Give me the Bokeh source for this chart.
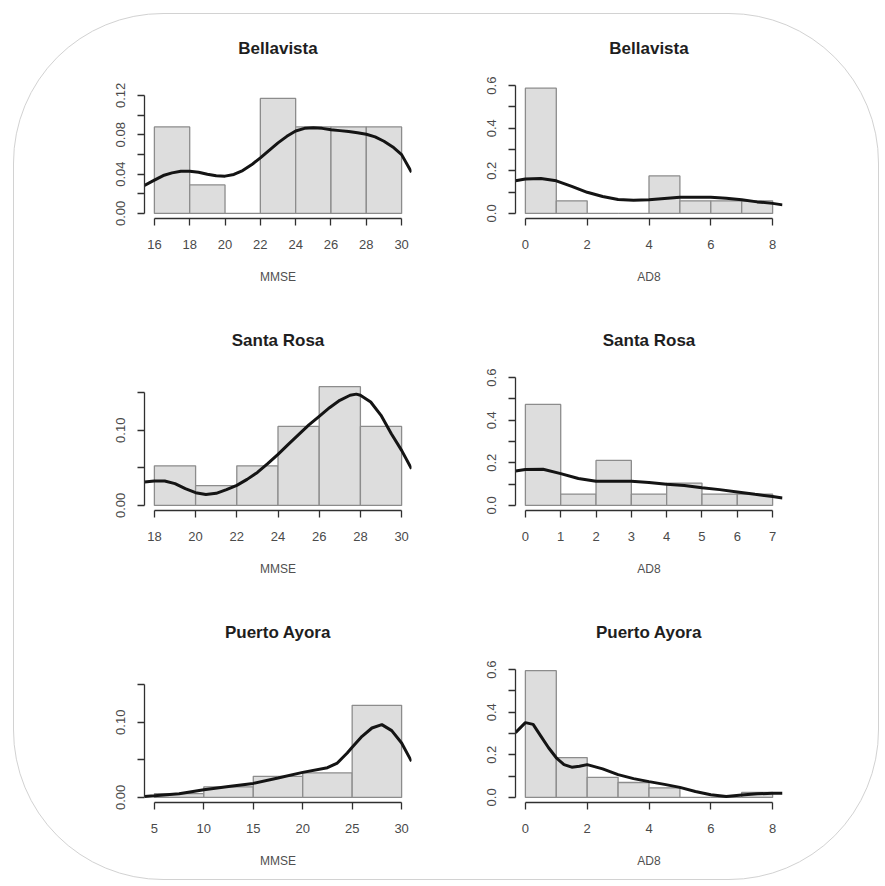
from bokeh.plotting import figure
from bokeh.layouts import gridplot
from bokeh.models import FixedTicker
from bokeh.embed import file_html
from bokeh.resources import INLINE

# ---------------- data ----------------
titles = ["Bellavista", "Bellavista", "Santa Rosa", "Santa Rosa", "Puerto Ayora", "Puerto Ayora"]
xlabels = ["MMSE", "AD8", "MMSE", "AD8", "MMSE", "AD8"]

# histogram breaks and densities
bv_mmse_breaks = [16, 18, 20, 22, 24, 26, 28, 30]
bv_mmse_dens = [0.088, 0.029, 0.0, 0.117, 0.088, 0.088, 0.088]
bv_ad8_breaks = [0, 1, 2, 3, 4, 5, 6, 7, 8]
bv_ad8_dens = [0.588, 0.059, 0.0, 0.0, 0.176, 0.059, 0.059, 0.059]
sr_mmse_breaks = [18, 20, 22, 24, 26, 28, 30]
sr_mmse_dens = [0.0526, 0.0263, 0.0526, 0.105, 0.158, 0.105]
sr_ad8_breaks = [0, 1, 2, 3, 4, 5, 6, 7]
sr_ad8_dens = [0.474, 0.053, 0.211, 0.053, 0.105, 0.053, 0.053]
pa_mmse_breaks = [5, 10, 15, 20, 25, 30]
pa_mmse_dens = [0.005, 0.014, 0.028, 0.0326, 0.1225]
pa_ad8_breaks = [0, 1, 2, 3, 4, 5, 6, 7, 8]
pa_ad8_dens = [0.595, 0.187, 0.094, 0.070, 0.045, 0.0, 0.0, 0.024]

# kernel density curves
bv_mmse_kx = [15.44, 16, 16.5, 17, 17.5, 18, 18.5, 19, 19.5, 20, 20.5, 21, 21.5, 22, 22.5, 23, 23.5,
              24, 24.5, 25, 25.5, 26, 26.5, 27, 27.5, 28, 28.5, 29, 29.5, 30, 30.56]
bv_mmse_ky = [0.0284, 0.0338, 0.0385, 0.0412, 0.0429, 0.0429, 0.0419, 0.0399, 0.0382, 0.0379, 0.0396,
              0.0436, 0.0494, 0.0565, 0.0642, 0.0717, 0.0784, 0.0838, 0.0865, 0.0872, 0.0865, 0.0852,
              0.0842, 0.0832, 0.0821, 0.0805, 0.0778, 0.0734, 0.0676, 0.0598, 0.0419]
bv_ad8_kx = [-0.32, 0, 0.5, 1, 1.5, 2, 2.5, 3, 3.5, 4, 4.5, 5, 5.5, 6, 6.5, 7, 7.5, 8, 8.32]
bv_ad8_ky = [0.153, 0.161, 0.164, 0.153, 0.127, 0.099, 0.079, 0.065, 0.062, 0.064, 0.070, 0.076,
             0.076, 0.076, 0.071, 0.064, 0.054, 0.047, 0.040]
sr_mmse_kx = [17.52, 18, 18.5, 19, 19.5, 20, 20.5, 21, 21.5, 22, 22.5, 23, 23.5, 24, 24.5, 25, 25.5,
              26, 26.5, 27, 27.5, 27.8, 28, 28.5, 29, 29.5, 30, 30.48]
sr_mmse_ky = [0.0311, 0.0324, 0.0324, 0.0289, 0.0222, 0.0169, 0.0146, 0.0160, 0.0209, 0.0266, 0.0346,
              0.0439, 0.0555, 0.0679, 0.0812, 0.0941, 0.107, 0.1185, 0.130, 0.1398, 0.1465, 0.148,
              0.1465, 0.1376, 0.1198, 0.0954, 0.0732, 0.0488]
sr_ad8_kx = [-0.28, 0, 0.5, 1, 1.5, 2, 2.5, 3, 3.5, 4, 4.5, 5, 5.5, 6, 6.5, 7, 7.28]
sr_ad8_ky = [0.162, 0.168, 0.170, 0.149, 0.126, 0.113, 0.113, 0.113, 0.108, 0.099, 0.093, 0.083,
             0.074, 0.063, 0.052, 0.042, 0.035]
pa_mmse_kx = [4, 5, 7.5, 10, 12.5, 15, 17.5, 20, 22.5, 23.5, 24, 24.5, 25, 26, 27, 28, 29, 30, 31]
pa_mmse_ky = [0.0013, 0.0022, 0.0049, 0.0102, 0.0146, 0.0186, 0.0257, 0.0333, 0.0395, 0.0457, 0.0524,
              0.059, 0.0666, 0.0812, 0.0923, 0.0968, 0.0888, 0.0723, 0.0479]
pa_ad8_kx = [-0.32, 0, 0.25, 0.5, 0.75, 1, 1.25, 1.5, 1.75, 2, 2.5, 3, 3.5, 4, 4.5, 5, 5.5, 6, 6.5,
             7, 7.5, 8, 8.32]
pa_ad8_ky = [0.304, 0.351, 0.343, 0.288, 0.233, 0.186, 0.154, 0.142, 0.146, 0.154, 0.134, 0.107, 0.088,
             0.074, 0.061, 0.047, 0.028, 0.0126, 0.0047, 0.011, 0.017, 0.019, 0.019]

# axis ranges, ticks and tick labels
bv_mmse_xlim = (15.44, 30.56)
bv_mmse_ylim = (-0.0052, 0.1352)
bv_mmse_xticks = [16, 18, 20, 22, 24, 26, 28, 30]
bv_mmse_yticks = [0, 0.02, 0.04, 0.06, 0.08, 0.1, 0.12]
bv_mmse_ylabels = ["0.00", "", "0.04", "", "0.08", "", "0.12"]

ad8_ylim = (-0.024, 0.624)
ad8_yticks = [0, 0.1, 0.2, 0.3, 0.4, 0.5, 0.6]
ad8_ylabels = ["0.0", "", "0.2", "", "0.4", "", "0.6"]
ad8_xlim8 = (-0.32, 8.32)
ad8_xticks8 = [0, 2, 4, 6, 8]
ad8_xlim7 = (-0.28, 7.28)
ad8_xticks7 = [0, 1, 2, 3, 4, 5, 6, 7]

sr_mmse_xlim = (17.52, 30.48)
sr_mmse_xticks = [18, 20, 22, 24, 26, 28, 30]
mmse_ylim = (-0.0068, 0.1768)
mmse_yticks = [0, 0.05, 0.1, 0.15]
mmse_ylabels = ["0.00", "", "0.10", ""]
pa_mmse_xlim = (4, 31)
pa_mmse_xticks = [5, 10, 15, 20, 25, 30]

FONT = "Liberation Sans"


def panel(title, xlab, breaks, dens, kx, ky, xlim, ylim, xticks, yticks, ylabels,
          left, right, top, bottom):
    p = figure(frame_width=267, frame_height=138, x_range=xlim, y_range=ylim,
               output_backend="svg", toolbar_location=None,
               min_border_left=left, min_border_right=right,
               min_border_top=top, min_border_bottom=bottom)
    p.background_fill_alpha = 0
    p.border_fill_alpha = 0
    p.outline_line_color = None
    p.xgrid.visible = False
    p.ygrid.visible = False

    p.title.text = title
    p.title.align = "center"
    p.title.text_font = FONT
    p.title.text_font_size = "17px"
    p.title.text_font_style = "bold"
    p.title.text_color = "#1e1e1e"
    p.title.standoff = 45

    p.quad(left=breaks[:-1], right=breaks[1:], top=dens, bottom=0,
           fill_color="#dddddd", line_color="#8c8c8c", line_width=1.3)
    p.line(kx, ky, line_color="#141414", line_width=3)

    for ax, ticks, labels in ((p.xaxis[0], xticks, [str(t) for t in xticks]),
                              (p.yaxis[0], yticks, ylabels)):
        ax.ticker = FixedTicker(ticks=ticks)
        ax.major_label_overrides = {t: l for t, l in zip(ticks, labels)}
        ax.bounds = (ticks[0], ticks[-1])
        ax.minor_tick_line_color = None
        ax.major_tick_in = 0
        ax.major_tick_out = 7
        ax.axis_line_color = "#303030"
        ax.axis_line_width = 1.3
        ax.major_tick_line_color = "#303030"
        ax.major_tick_line_width = 1.3
        ax.major_label_text_font = FONT
        ax.major_label_text_font_size = "13px"
        ax.major_label_text_color = "#4a4a4a"
        ax.major_label_standoff = 14
    p.yaxis[0].major_label_orientation = "vertical"
    p.yaxis[0].major_label_standoff = 12
    p.xaxis[0].axis_label = xlab
    p.xaxis[0].axis_label_text_font = FONT
    p.xaxis[0].axis_label_text_font_size = "12px"
    p.xaxis[0].axis_label_text_font_style = "normal"
    p.xaxis[0].axis_label_text_color = "#505050"
    p.xaxis[0].axis_label_standoff = 18
    return p


p1 = panel(titles[0], xlabels[0], bv_mmse_breaks, bv_mmse_dens, bv_mmse_kx, bv_mmse_ky,
           bv_mmse_xlim, bv_mmse_ylim, bv_mmse_xticks, bv_mmse_yticks, bv_mmse_ylabels,
           130, 52, 66, 88)
p2 = panel(titles[1], xlabels[1], bv_ad8_breaks, bv_ad8_dens, bv_ad8_kx, bv_ad8_ky,
           ad8_xlim8, ad8_ylim, ad8_xticks8, ad8_yticks, ad8_ylabels,
           52, 96, 66, 88)
p3 = panel(titles[2], xlabels[2], sr_mmse_breaks, sr_mmse_dens, sr_mmse_kx, sr_mmse_ky,
           sr_mmse_xlim, mmse_ylim, sr_mmse_xticks, mmse_yticks, mmse_ylabels,
           130, 52, 66, 88)
p4 = panel(titles[3], xlabels[3], sr_ad8_breaks, sr_ad8_dens, sr_ad8_kx, sr_ad8_ky,
           ad8_xlim7, ad8_ylim, ad8_xticks7, ad8_yticks, ad8_ylabels,
           52, 96, 66, 88)
p5 = panel(titles[4], xlabels[4], pa_mmse_breaks, pa_mmse_dens, pa_mmse_kx, pa_mmse_ky,
           pa_mmse_xlim, mmse_ylim, pa_mmse_xticks, mmse_yticks, mmse_ylabels,
           130, 52, 66, 77)
p6 = panel(titles[5], xlabels[5], pa_ad8_breaks, pa_ad8_dens, pa_ad8_kx, pa_ad8_ky,
           ad8_xlim8, ad8_ylim, ad8_xticks8, ad8_yticks, ad8_ylabels,
           52, 96, 66, 77)

grid = gridplot([[p1, p2], [p3, p4], [p5, p6]], toolbar_location=None)
grid.styles = {"border": "1.5px solid #d2d2d2", "border-radius": "150px",
               "margin": "13px 0px 0px 13px", "background-color": "white"}

open("out.html", "w").write(file_html(grid, INLINE))
